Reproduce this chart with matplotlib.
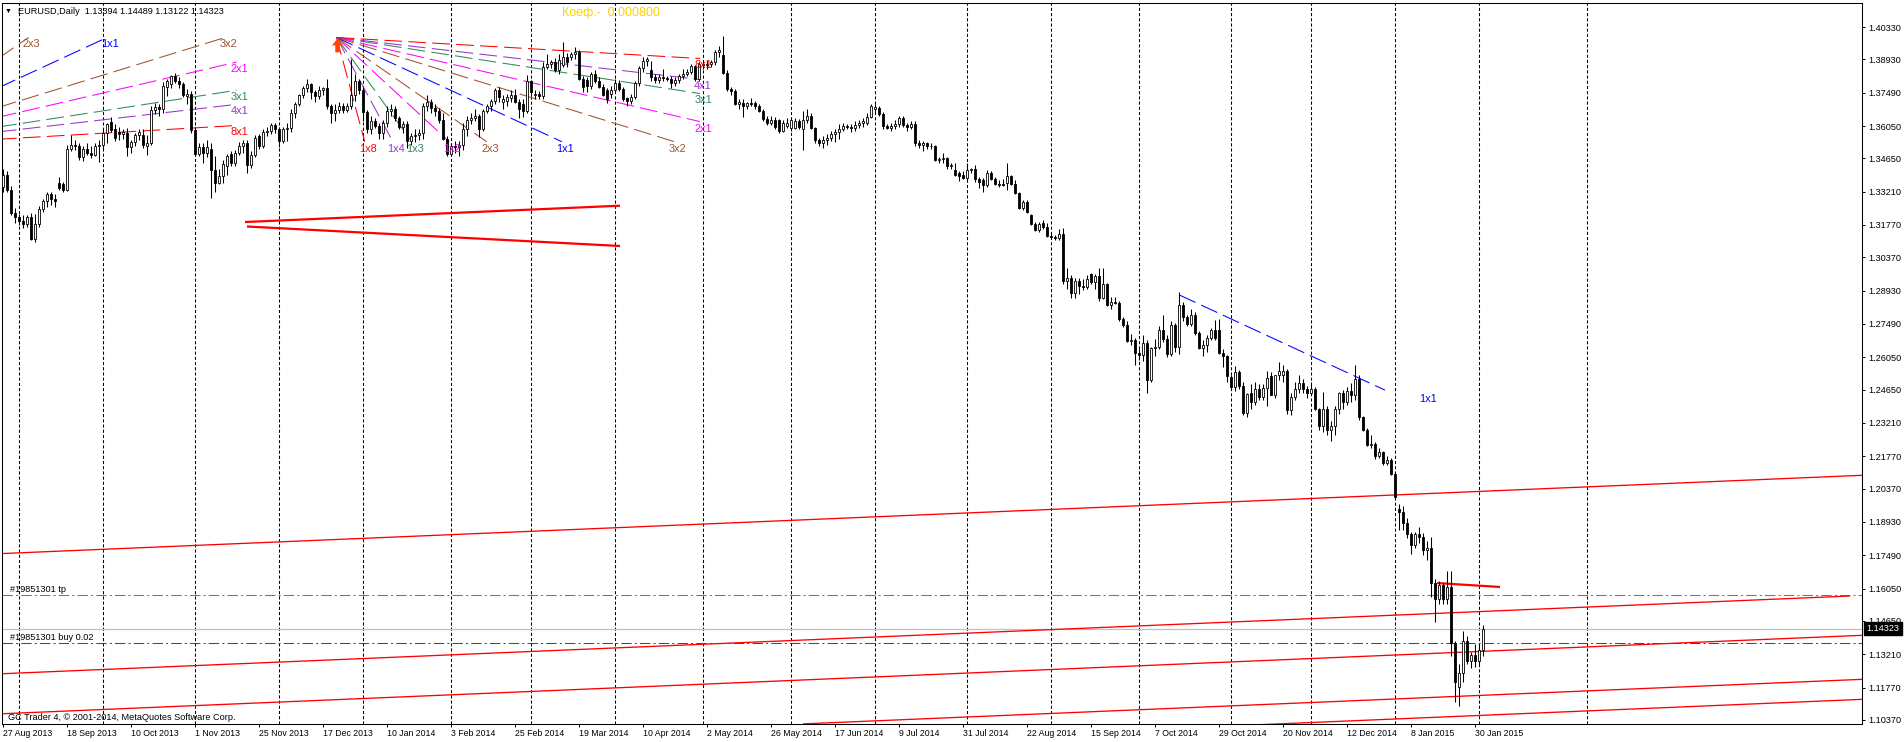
import numpy as np
import pandas as pd
import matplotlib
matplotlib.use("Agg")
import matplotlib.pyplot as plt
from matplotlib.path import Path
import matplotlib.transforms as mtransforms

plt.rcParams['font.family'] = ['Liberation Sans', 'DejaVu Sans']
plt.rcParams['axes.linewidth'] = 0.75

W, H = 1904, 742

# trading days shown on the chart (broker had no bar on these holidays)
holidays = ["2013-12-25", "2014-01-01", "2014-12-25", "2014-12-26", "2015-01-01"]
days = pd.bdate_range("2013-08-27", "2015-02-03")
days = days[~days.isin(pd.to_datetime(holidays))]

# daily OHLC, in 1/10000 of a unit (one row per month)
opens = [
    13340, 13395, 13330, 13230,
    13210, 13195, 13180, 13210, 13115, 13180, 13245, 13280, 13310, 13290, 13360, 13355, 13330, 13505, 13525, 13520, 13470, 13505, 13490, 13480, 13520,
    13525, 13575, 13622, 13590, 13580, 13570, 13575, 13515, 13535, 13565, 13565, 13520, 13530, 13674, 13686, 13680, 13775, 13785, 13820, 13800, 13785, 13735, 13745,
    13588, 13482, 13515, 13488, 13505, 13415, 13360, 13390, 13430, 13485, 13445, 13490, 13520, 13530, 13435, 13480, 13560, 13520, 13580, 13585, 13610,
    13590, 13540, 13590, 13595, 13660, 13700, 13740, 13770, 13785, 13750, 13735, 13760, 13770, 13690, 13660, 13675, 13690, 13675, 13690, 13740, 13800,
    13760, 13665, 13590, 13625, 13605, 13575, 13620, 13670, 13680, 13640, 13600, 13615, 13540, 13560, 13565, 13575, 13690, 13710, 13685, 13670, 13630, 13550,
    13485, 13520, 13515, 13525, 13590, 13630, 13640, 13650, 13590, 13670, 13690, 13715, 13760, 13710, 13715, 13725, 13740, 13710, 13700, 13670,
    13800, 13740, 13745, 13735, 13860, 13875, 13880, 13845, 13870, 13905, 13905, 13915, 13925, 13810, 13805, 13780, 13830, 13800, 13775, 13760, 13745,
    13760, 13790, 13765, 13725, 13712, 13730, 13790, 13855, 13885, 13845, 13815, 13805, 13815, 13812, 13808, 13790, 13805, 13820, 13830, 13840, 13865, 13810,
    13875, 13870, 13875, 13880, 13925, 13912, 13835, 13765, 13755, 13700, 13705, 13690, 13705, 13705, 13690, 13670, 13635, 13620, 13630, 13630, 13585, 13605,
    13595, 13595, 13625, 13590, 13630, 13650, 13595, 13545, 13530, 13545, 13555, 13570, 13580, 13590, 13605, 13600, 13598, 13610, 13620, 13620, 13645,
    13680, 13685, 13655, 13605, 13595, 13605, 13615, 13640, 13610, 13600, 13615, 13530, 13525, 13530, 13520, 13520, 13460, 13462, 13465, 13430, 13415, 13400, 13392,
    13380, 13415, 13418, 13375, 13370, 13350, 13400, 13375, 13355, 13355, 13357, 13390, 13355, 13315, 13250, 13275, 13220, 13180, 13155, 13185, 13170,
    13130, 13125, 13120, 13140, 12935, 12950, 12885, 12935, 12915, 12910, 12965, 12930, 12955, 12860, 12920, 12830, 12845, 12840, 12770, 12745, 12675, 12680,
    12625, 12615, 12665, 12505, 12645, 12650, 12725, 12685, 12620, 12745, 12650, 12830, 12780, 12750, 12790, 12710, 12645, 12660, 12690, 12725, 12725, 12625, 12610,
    12520, 12478, 12540, 12481, 12366, 12452, 12413, 12468, 12432, 12471, 12524, 12442, 12530, 12530, 12546, 12377, 12435, 12466, 12495, 12470,
    12450, 12470, 12380, 12310, 12380, 12290, 12310, 12380, 12450, 12410, 12460, 12440, 12510, 12345, 12290, 12225, 12230, 12180, 12195, 12150, 12160,
    12100, 11950, 11935, 11890, 11840, 11795, 11840, 11830, 11770, 11780, 11630, 11560, 11620, 11560, 11610, 11370, 11180, 11240, 11380, 11290, 11320,
    11290, 11339.4,
]
highs = [
    13420, 13410, 13345, 13250,
    13225, 13220, 13220, 13230, 13225, 13260, 13290, 13320, 13320, 13310, 13385, 13365, 13525, 13568, 13545, 13530, 13520, 13530, 13520, 13530, 13545,
    13590, 13620, 13646, 13615, 13600, 13590, 13595, 13545, 13575, 13590, 13590, 13565, 13690, 13705, 13700, 13795, 13810, 13825, 13832, 13815, 13795, 13765, 13755,
    13600, 13530, 13530, 13545, 13530, 13475, 13420, 13460, 13485, 13495, 13500, 13535, 13545, 13545, 13495, 13565, 13570, 13590, 13600, 13620, 13620,
    13600, 13600, 13620, 13680, 13710, 13745, 13780, 13810, 13790, 13760, 13780, 13775, 13810, 13700, 13700, 13710, 13705, 13705, 13893, 13830, 13810,
    13775, 13675, 13650, 13640, 13620, 13630, 13690, 13700, 13690, 13650, 13625, 13625, 13575, 13590, 13590, 13705, 13740, 13720, 13700, 13685, 13660, 13560,
    13530, 13540, 13540, 13620, 13650, 13660, 13680, 13655, 13680, 13700, 13720, 13770, 13775, 13740, 13745, 13760, 13765, 13720, 13720, 13825,
    13805, 13760, 13755, 13880, 13915, 13890, 13900, 13915, 13967, 13920, 13925, 13945, 13935, 13820, 13815, 13840, 13845, 13815, 13785, 13770, 13780,
    13810, 13805, 13775, 13730, 13745, 13800, 13865, 13905, 13905, 13885, 13830, 13830, 13850, 13820, 13820, 13815, 13830, 13850, 13850, 13875, 13870, 13880,
    13890, 13890, 13890, 13935, 13950, 13993, 13845, 13775, 13765, 13720, 13720, 13710, 13725, 13715, 13700, 13680, 13650, 13650, 13645, 13635, 13630, 13640,
    13640, 13640, 13635, 13669, 13677, 13660, 13600, 13555, 13560, 13570, 13585, 13590, 13615, 13620, 13615, 13615, 13625, 13630, 13640, 13660, 13700,
    13700, 13690, 13665, 13615, 13620, 13630, 13650, 13650, 13620, 13625, 13625, 13545, 13540, 13535, 13530, 13525, 13470, 13490, 13470, 13445, 13445, 13410, 13410,
    13445, 13425, 13435, 13385, 13380, 13415, 13410, 13385, 13370, 13375, 13445, 13395, 13370, 13320, 13285, 13285, 13225, 13190, 13190, 13200, 13185,
    13140, 13135, 13160, 13165, 12990, 12960, 12950, 12950, 12945, 12960, 12970, 12965, 12990, 12990, 12925, 12865, 12865, 12850, 12780, 12760, 12705, 12690,
    12640, 12700, 12680, 12650, 12685, 12740, 12790, 12700, 12760, 12755, 12887, 12845, 12790, 12815, 12800, 12720, 12680, 12700, 12730, 12765, 12770, 12640, 12615,
    12530, 12568, 12550, 12500, 12450, 12490, 12500, 12490, 12490, 12545, 12540, 12530, 12586, 12570, 12555, 12450, 12500, 12530, 12510, 12480,
    12500, 12475, 12385, 12456, 12395, 12330, 12395, 12455, 12465, 12475, 12495, 12570, 12530, 12350, 12300, 12270, 12240, 12215, 12200, 12180, 12170,
    12110, 11970, 11960, 11910, 11850, 11850, 11870, 11845, 11810, 11830, 11645, 11640, 11630, 11680, 11680, 11380, 11280, 11420, 11400, 11330, 11365,
    11365, 11448.9,
]
lows = [
    13320, 13320, 13220, 13185,
    13175, 13165, 13170, 13110, 13105, 13170, 13235, 13255, 13265, 13255, 13330, 13320, 13322, 13495, 13500, 13460, 13455, 13480, 13465, 13475, 13450,
    13505, 13530, 13580, 13540, 13545, 13550, 13475, 13490, 13520, 13545, 13510, 13480, 13525, 13655, 13650, 13660, 13735, 13770, 13790, 13770, 13730, 13700, 13575,
    13475, 13475, 13445, 13470, 13295, 13320, 13355, 13360, 13395, 13430, 13430, 13480, 13490, 13400, 13425, 13470, 13505, 13510, 13560, 13570, 13575,
    13515, 13530, 13540, 13580, 13640, 13690, 13725, 13750, 13720, 13710, 13720, 13740, 13680, 13620, 13625, 13660, 13660, 13665, 13680, 13715, 13745,
    13625, 13575, 13570, 13595, 13550, 13550, 13600, 13650, 13625, 13590, 13575, 13510, 13525, 13535, 13545, 13550, 13670, 13660, 13650, 13620, 13545, 13475,
    13475, 13490, 13475, 13500, 13560, 13615, 13625, 13556, 13585, 13660, 13670, 13700, 13710, 13680, 13690, 13710, 13705, 13640, 13645, 13660,
    13735, 13720, 13720, 13720, 13850, 13855, 13840, 13830, 13860, 13860, 13890, 13895, 13805, 13750, 13750, 13765, 13790, 13770, 13735, 13705, 13725,
    13750, 13755, 13715, 13690, 13700, 13720, 13780, 13840, 13865, 13800, 13790, 13790, 13800, 13800, 13770, 13780, 13790, 13810, 13820, 13830, 13800, 13800,
    13850, 13850, 13860, 13870, 13905, 13830, 13755, 13740, 13695, 13680, 13645, 13680, 13690, 13680, 13665, 13625, 13610, 13610, 13590, 13575, 13580, 13595,
    13585, 13590, 13590, 13503, 13620, 13590, 13530, 13520, 13510, 13525, 13540, 13535, 13550, 13585, 13590, 13580, 13585, 13595, 13600, 13610, 13640,
    13665, 13650, 13590, 13590, 13585, 13590, 13600, 13600, 13585, 13590, 13520, 13510, 13495, 13505, 13505, 13455, 13445, 13445, 13420, 13420, 13390, 13368, 13375,
    13370, 13400, 13365, 13335, 13320, 13340, 13370, 13350, 13340, 13345, 13330, 13350, 13310, 13245, 13240, 13230, 13175, 13150, 13145, 13160, 13125,
    13115, 13110, 13110, 12920, 12900, 12860, 12860, 12880, 12895, 12900, 12920, 12900, 12850, 12855, 12825, 12815, 12835, 12760, 12735, 12670, 12660, 12570,
    12595, 12590, 12450, 12500, 12610, 12640, 12670, 12605, 12610, 12630, 12620, 12760, 12740, 12740, 12700, 12640, 12610, 12630, 12680, 12680, 12620, 12565, 12500,
    12470, 12460, 12470, 12355, 12348, 12380, 12400, 12420, 12420, 12393, 12440, 12430, 12507, 12500, 12360, 12355, 12420, 12450, 12450, 12430,
    12440, 12375, 12290, 12280, 12268, 12245, 12270, 12360, 12380, 12400, 12410, 12420, 12335, 12285, 12220, 12215, 12165, 12170, 12140, 12140, 12095,
    11995, 11860, 11860, 11825, 11755, 11780, 11800, 11750, 11730, 11570, 11460, 11540, 11540, 11540, 11315, 11115, 11098, 11200, 11280, 11260, 11265,
    11270, 11312.2,
]
closes = [
    13395, 13330, 13230, 13210,
    13195, 13180, 13210, 13115, 13180, 13245, 13280, 13310, 13290, 13280, 13335, 13330, 13505, 13525, 13520, 13470, 13505, 13490, 13480, 13520, 13525,
    13575, 13615, 13588, 13555, 13570, 13580, 13515, 13535, 13565, 13580, 13525, 13530, 13674, 13686, 13680, 13780, 13800, 13820, 13800, 13785, 13740, 13745, 13588,
    13482, 13515, 13488, 13515, 13415, 13360, 13390, 13440, 13475, 13445, 13490, 13520, 13530, 13435, 13480, 13555, 13520, 13580, 13585, 13610, 13590,
    13540, 13590, 13595, 13660, 13700, 13740, 13770, 13785, 13750, 13735, 13760, 13770, 13690, 13660, 13675, 13690, 13675, 13690, 13740, 13800, 13760,
    13665, 13590, 13625, 13605, 13575, 13620, 13670, 13680, 13640, 13600, 13615, 13540, 13560, 13565, 13575, 13690, 13710, 13685, 13670, 13630, 13550, 13485,
    13520, 13515, 13525, 13590, 13630, 13640, 13650, 13590, 13670, 13690, 13715, 13760, 13730, 13720, 13730, 13740, 13710, 13680, 13670, 13800,
    13750, 13745, 13735, 13860, 13875, 13880, 13845, 13890, 13905, 13880, 13915, 13925, 13810, 13775, 13780, 13830, 13800, 13775, 13740, 13720, 13760,
    13790, 13765, 13720, 13712, 13730, 13790, 13855, 13885, 13895, 13815, 13805, 13815, 13812, 13808, 13790, 13805, 13820, 13830, 13840, 13865, 13810, 13875,
    13870, 13875, 13880, 13925, 13935, 13835, 13765, 13755, 13700, 13710, 13690, 13705, 13700, 13690, 13670, 13635, 13620, 13630, 13600, 13585, 13620, 13620,
    13630, 13625, 13600, 13630, 13650, 13595, 13545, 13530, 13545, 13555, 13570, 13580, 13590, 13605, 13600, 13598, 13610, 13620, 13625, 13645, 13690,
    13686, 13655, 13605, 13595, 13605, 13615, 13640, 13610, 13600, 13615, 13530, 13525, 13530, 13520, 13520, 13460, 13462, 13465, 13430, 13438, 13395, 13388, 13380,
    13415, 13418, 13375, 13365, 13350, 13400, 13375, 13355, 13350, 13350, 13390, 13355, 13315, 13250, 13275, 13235, 13180, 13155, 13180, 13170, 13130,
    13125, 13120, 13140, 12935, 12950, 12885, 12935, 12915, 12910, 12945, 12930, 12955, 12860, 12920, 12830, 12845, 12840, 12770, 12745, 12675, 12680, 12625,
    12615, 12665, 12505, 12645, 12650, 12725, 12685, 12620, 12745, 12650, 12830, 12780, 12750, 12790, 12710, 12645, 12660, 12690, 12725, 12690, 12625, 12610, 12525,
    12478, 12540, 12481, 12366, 12446, 12413, 12468, 12432, 12471, 12514, 12442, 12528, 12546, 12546, 12377, 12435, 12466, 12495, 12470, 12450,
    12470, 12380, 12310, 12380, 12290, 12310, 12380, 12450, 12410, 12460, 12440, 12510, 12345, 12290, 12225, 12230, 12180, 12195, 12150, 12160, 12100,
    12000, 11935, 11890, 11840, 11795, 11840, 11830, 11770, 11780, 11630, 11560, 11620, 11560, 11610, 11370, 11200, 11240, 11380, 11290, 11320, 11290,
    11340, 11432.3,
]

date_labels = ["27 Aug 2013", "18 Sep 2013", "10 Oct 2013", "1 Nov 2013", "25 Nov 2013",
               "17 Dec 2013", "10 Jan 2014", "3 Feb 2014", "25 Feb 2014", "19 Mar 2014",
               "10 Apr 2014", "2 May 2014", "26 May 2014", "17 Jun 2014", "9 Jul 2014",
               "31 Jul 2014", "22 Aug 2014", "15 Sep 2014", "7 Oct 2014", "29 Oct 2014",
               "20 Nov 2014", "12 Dec 2014", "8 Jan 2015", "30 Jan 2015"]
label_every = 16

price_ticks = [1.40330, 1.38930, 1.37490, 1.36050, 1.34650, 1.33210, 1.31770, 1.30370,
               1.28930, 1.27490, 1.26050, 1.24650, 1.23210, 1.21770, 1.20370, 1.18930,
               1.17490, 1.16050, 1.14650, 1.13210, 1.11770, 1.10370]

future_grid_bar = 396          # grid line drawn in the empty area on the right
last_price = 1.14323
tp_price = 1.15773
buy_price = 1.13698
title = "EURUSD,Daily  1.13394 1.14489 1.13122 1.14323"
coef_text = "Коеф.-  0.000800"
gann_step = 0.0008

# thin red trend lines: bar0, price0, bar1, price1
trend_lines = [
    (0.0, 1.17567, 464.75, 1.20948),
    (0.0, 1.12371, 461.75, 1.15730),
    (0.0, 1.10641, 464.75, 1.14030),
    (200.0, 1.10201, 464.75, 1.12127),
    (310.0, 1.10136, 464.75, 1.11262),
]
# thicker red lines
thick_lines = [
    (60.5, 1.31899, 154.25, 1.32604),
    (61.0, 1.31705, 154.25, 1.30862),
    (358.5, 1.16290, 374.25, 1.16120),
]

# gann fans
left_fan_origin = (-32.95, 1.35159)
left_fan_names = ["2x3", "1x1", "3x2", "2x1", "3x1", "4x1", "8x1"]
left_fan_ratios = [3 / 2, 1, 2 / 3, 1 / 2, 1 / 3, 1 / 4, 1 / 8]
left_fan_end = (58.4, 1.3988)

right_fan_origin = (83.4, 1.39876)
right_fan_names = ["1x8", "1x4", "1x3", "1x2", "2x3", "1x1", "3x2", "2x1", "3x1", "4x1", "8x1"]
right_fan_ratios = [8, 4, 3, 2, 3 / 2, 1, 2 / 3, 1 / 2, 1 / 3, 1 / 4, 1 / 8]
right_fan_end = (174.25, 1.35371)

gann_line_origin = (294.1, 1.28743)
gann_line_end_bar = 345.5
gann_line_label_at = (356.3, 1.24250)

fan_color = {8: "#FF0000", 4: "#9932CC", 3: "#2E8B57", 2: "#FF00FF", 1.5: "#A0522D", 1: "#0000FF"}


def ratio_color(k):
    key = k if k >= 1 else 1 / k
    return fan_color[round(key, 2) if key not in fan_color else key]


o = np.array(opens) / 1e4
hi = np.array(highs) / 1e4
lo = np.array(lows) / 1e4
c = np.array(closes) / 1e4
n = len(c)
x = np.arange(n)

fig = plt.figure(figsize=(W / 100, H / 100), dpi=100)
fig.patch.set_facecolor("white")
ax = fig.add_axes([2 / W, (H - 724) / H, 1860 / W, 721 / H])
ax.set_xlim(-0.25, 464.75)
ax.set_ylim(1.10196, 1.41368)
ax.set_facecolor("white")
for s in ax.spines.values():
    s.set_color("black")
    s.set_linewidth(0.75)

# vertical month grid
month_starts = [i for i in range(1, len(days)) if days[i].month != days[i - 1].month]
for g in month_starts + [future_grid_bar]:
    ax.axvline(g, color="black", lw=0.75, ls=(0, (3, 2)), zorder=1)

# order lines and current price
ax.axhline(last_price, color="#C0C0C0", lw=0.9, zorder=1.5)
ax.axhline(tp_price, color="#FF4500", lw=0.75, ls=(0, (10, 3, 2, 3)), zorder=1.6)
ax.axhline(buy_price, color="#008000", lw=0.75, ls=(0, (10, 3, 2, 3)), zorder=1.6)

for b0, p0, b1, p1 in trend_lines:
    ax.plot([b0, b1], [p0, p1], color="#FF0000", lw=0.95, zorder=1.8, solid_capstyle="butt")
for b0, p0, b1, p1 in thick_lines:
    ax.plot([b0, b1], [p0, p1], color="#FF0000", lw=1.6, zorder=1.8, solid_capstyle="butt")


def draw_fan(origin, names, ratios, end, sign):
    b0, p0 = origin
    bar_lim, price_lim = end
    for name, k in zip(names, ratios):
        col = ratio_color(k)
        slope = sign * k * gann_step
        b_end = min(bar_lim, b0 + (price_lim - p0) / slope)
        p_end = p0 + slope * (b_end - b0)
        ax.plot([b0, b_end], [p0, p_end], color=col, lw=0.75, ls=(0, (17, 6)), zorder=2)
        ax.annotate(name, (b_end, p_end), xytext=(2.2, -5), textcoords="offset points",
                    ha="center", va="center", fontsize=7.9, color=col, zorder=6,
                    annotation_clip=False)


draw_fan(left_fan_origin, left_fan_names, left_fan_ratios, left_fan_end, 1)
draw_fan(right_fan_origin, right_fan_names, right_fan_ratios, right_fan_end, -1)

gb, gp = gann_line_origin
ax.plot([gb, gann_line_end_bar], [gp, gp - gann_step * (gann_line_end_bar - gb)],
        color="#0000FF", lw=0.75, ls=(0, (17, 6)), zorder=2)
ax.text(gann_line_label_at[0], gann_line_label_at[1], "1x1", color="#0000FF",
        fontsize=7.9, ha="center", va="center", zorder=6)

# arrow at the origin of the right fan (tip sits on the origin)
arrow = Path([(0, 0), (-0.8, -1.0), (-0.32, -1.0), (-0.32, -2.0), (0.32, -2.0),
              (0.32, -1.0), (0.8, -1.0), (0, 0)],
             [Path.MOVETO] + [Path.LINETO] * 6 + [Path.CLOSEPOLY])
ax.scatter([right_fan_origin[0]], [right_fan_origin[1]], marker=arrow, s=400,
           color="#FF4500", linewidths=0, zorder=7)

# candles
up = c >= o
ax.vlines(x, lo, hi, color="black", lw=0.75, zorder=4)
ax.bar(x[up], c[up] - o[up], bottom=o[up], width=0.68, color="white",
       edgecolor="black", linewidth=0.6, zorder=5)
ax.bar(x[~up], c[~up] - o[~up], bottom=o[~up], width=0.68, color="black",
       edgecolor="black", linewidth=0.6, zorder=5)

# axes ticks
ax.yaxis.tick_right()
ax.set_yticks(price_ticks)
ax.set_yticklabels([f"{v:.5f}" for v in price_ticks])
ax.tick_params(axis="y", direction="out", length=2.2, width=0.7, pad=2.2,
               labelsize=6.6, colors="black")
ax.set_xticks([k * label_every for k in range(len(date_labels))])
ax.set_xticklabels(date_labels)
for lab in ax.get_xticklabels():
    lab.set_horizontalalignment("left")
ax.tick_params(axis="x", direction="out", length=2.2, width=0.7, pad=1.5,
               labelsize=6.3, colors="black")

# current price box on the price scale
trans = mtransforms.blended_transform_factory(ax.transAxes, ax.transData)
ax.annotate(f"{last_price:.5f}", (1.0, last_price), xycoords=trans,
            xytext=(3.3, 0), textcoords="offset points", ha="left", va="center",
            fontsize=6.6, color="white", zorder=20, annotation_clip=False,
            bbox=dict(boxstyle="square,pad=0.25", facecolor="black", edgecolor="black"))

# texts
fig.text(8 / W, 1 - 11 / H, "▼", fontsize=5, ha="center", va="center", color="black")
fig.text(18 / W, 1 - 11 / H, title, fontsize=6.6, ha="left", va="center", color="black")
fig.text(562 / W, 1 - 13 / H, coef_text, fontsize=9, ha="left", va="center", color="#FFD000")
fig.text(8 / W, 1 - 717 / H, "GC Trader 4, © 2001-2014, MetaQuotes Software Corp.",
         fontsize=6.6, ha="left", va="center", color="black")
ax.annotate("#19851301 tp", (0, tp_price), xycoords=mtransforms.blended_transform_factory(ax.transAxes, ax.transData),
            xytext=(5.5, 4.3), textcoords="offset points", fontsize=6.6, ha="left", va="center")
ax.annotate("#19851301 buy 0.02", (0, buy_price), xycoords=mtransforms.blended_transform_factory(ax.transAxes, ax.transData),
            xytext=(5.5, 4.3), textcoords="offset points", fontsize=6.6, ha="left", va="center")

fig.savefig("out.png", dpi=100, facecolor="white")
